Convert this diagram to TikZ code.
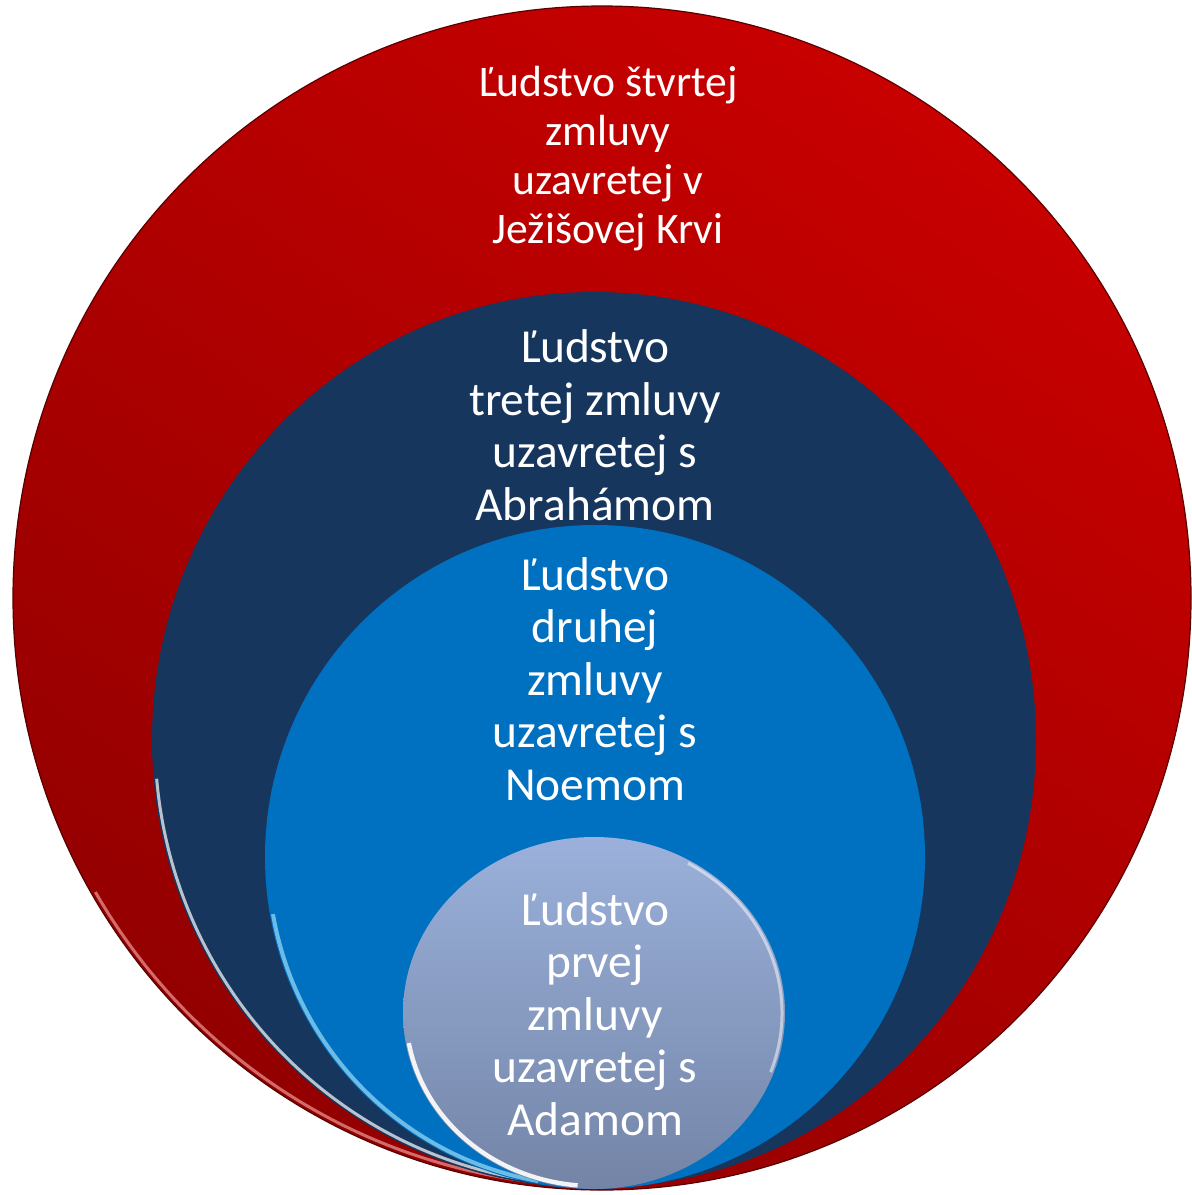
\documentclass[tikz,border=0pt]{standalone}
\usepackage{fontspec}
\setmainfont{Carlito}
\usepackage{tikz}

\definecolor{cervena}{HTML}{C80000}
\definecolor{tmavocervena}{HTML}{930000}
\definecolor{tmavomodra}{HTML}{17365D}
\definecolor{modra}{HTML}{0070C0}
\definecolor{svetlahore}{HTML}{9BB1DB}
\definecolor{svetladole}{HTML}{7384A6}

\newcommand{\mensi}{\fontsize{21.8}{24.35}\selectfont}
\newcommand{\velky}{\fontsize{23.7}{26.25}\selectfont}

\begin{document}
\begin{tikzpicture}[x=0.5pt,y=-0.5pt,
    napis/.style={text=white, align=center, anchor=base, inner sep=0pt},
    okraj/.style={white, line width=1.5pt, opacity=0.7}]
  \useasboundingbox (0,0) rectangle (1191,1195);
  % stvrta zmluva
  \shade[top color=cervena, bottom color=tmavocervena, shading angle=-35]
    (602,598) ellipse [x radius=589, y radius=592];
  \draw[tmavocervena!60!black, line width=0.6pt]
    (602,598) ellipse [x radius=589, y radius=592];
  \draw[okraj, red!30, opacity=0.6]
    (602,598) ++(95:585 and 588) arc [start angle=95, end angle=150, x radius=585, y radius=588];
  % tretia zmluva
  \fill[tmavomodra]
    (594,740) ellipse [x radius=442, y radius=448];
  \draw[okraj]
    (594,740) ++(100:439 and 445) arc [start angle=100, end angle=175, x radius=439, y radius=445];
  % druha zmluva
  \fill[modra]
    (595,857) ellipse [x radius=330, y radius=332];
  \draw[okraj, cyan!40, line width=2pt]
    (595,857) ++(100:327 and 329) arc [start angle=100, end angle=170, x radius=327, y radius=329];
  % prva zmluva
  \shade[top color=svetlahore, bottom color=svetladole]
    (594,1013) ellipse [x radius=191, y radius=176];
  \draw[okraj, opacity=0.9, line width=2.2pt]
    (594,1013) ++(95:188 and 173) arc [start angle=95, end angle=170, x radius=188, y radius=173];
  \draw[okraj, opacity=0.5]
    (594,1013) ++(-60:188 and 173) arc [start angle=-60, end angle=20, x radius=188, y radius=173];
  % texty
  \node[napis, font=\mensi] (stvrta) at (608,243)
    {Ľudstvo štvrtej\\zmluvy\\uzavretej v\\Ježišovej Krvi};
  \node[napis, font=\velky] (tretia) at (595,520)
    {Ľudstvo\\tretej zmluvy\\uzavretej s\\Abrahámom};
  \node[napis, font=\velky] (druha) at (595,800)
    {Ľudstvo\\druhej\\zmluvy\\uzavretej s\\Noemom};
  \node[napis, font=\velky] (prva) at (595,1135)
    {Ľudstvo\\prvej\\zmluvy\\uzavretej s\\Adamom};
\end{tikzpicture}
\end{document}
